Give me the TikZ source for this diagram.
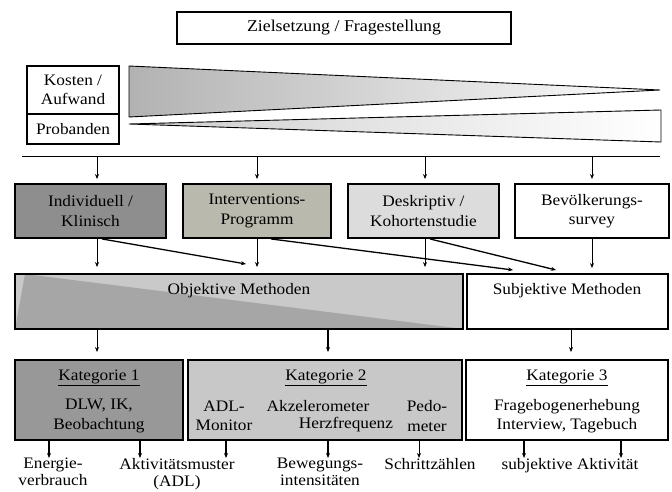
\documentclass[tikz,border=0pt]{standalone}
\usepackage{fontspec}
\setmainfont{Liberation Serif}[FakeStretch=1.08]
\usetikzlibrary{arrows.meta,calc}
\definecolor{indfill}{HTML}{8E8E8E}
\definecolor{intfill}{HTML}{B9B9AD}
\definecolor{deskfill}{HTML}{DCDCDC}
\definecolor{objdark}{HTML}{A6A6A6}
\definecolor{objlight}{HTML}{C9C9C9}
\definecolor{katone}{HTML}{989898}
\definecolor{kattwo}{HTML}{C8C8C8}
\definecolor{wedgeA}{HTML}{B2B2B2}
\definecolor{wedgeB}{HTML}{CDCDCD}
\begin{document}
\begin{tikzpicture}[x=1pt,y=-1pt,
  font=\fontsize{16}{19.5}\selectfont,
  box/.style={draw, line width=1.9pt, inner sep=0pt, align=center},
  arr/.style={-{Stealth[length=5pt,width=4pt]}, line width=0.8pt},
  thickarr/.style={-{Stealth[length=5pt,width=4pt]}, line width=1.3pt},
  lbl/.style={inner sep=0pt, align=center, anchor=north, font=\fontsize{16}{17}\selectfont}]
\useasboundingbox (0,0) rectangle (672,492);

% title
\node[box, line width=2pt, minimum width=334pt, minimum height=32pt, font=\fontsize{16.5}{20}\selectfont] (title) at (344,28) {Zielsetzung / Fragestellung};

% cost / subjects
\node[box, minimum width=92pt, minimum height=48pt] (kosten) at (73,90) {Kosten /\\Aufwand};
\node[box, minimum width=92pt, minimum height=30pt] (prob) at (73,129) {Probanden};

% wedges
\shade[left color=wedgeA, right color=white, draw=black, line width=0.9pt]
  (129,66) -- (660,90) -- (129,117) -- cycle;
\shade[left color=wedgeB, right color=white, draw=black, line width=0.9pt]
  (129,124) -- (661,110) -- (661,142) -- cycle;

% bus
\coordinate (busL) at (22,157);
\coordinate (busR) at (660,157);
\draw[line width=1pt] (busL) -- (busR);
\coordinate (x97) at (97,157);
\coordinate (x257) at (257,157);
\coordinate (x425) at (425,157);
\coordinate (x592) at (592,157);

% study types
\node[box, fill=indfill, minimum width=151pt, minimum height=54pt] (ind) at (90.5,211) {Individuell /\\Klinisch};
\node[box, fill=intfill, minimum width=148pt, minimum height=54pt] (int) at (257,211) {Interventions-\\Programm};
\node[box, fill=deskfill, minimum width=151pt, minimum height=54pt] (desk) at (423.5,211) {Deskriptiv /\\Kohortenstudie};
\node[box, fill=white, minimum width=154pt, minimum height=54pt] (bev) at (592,211) {Bevölkerungs-\\survey};

\draw[arr, shorten >=4pt] (x97) -- (x97 |- ind.north);
\draw[arr, shorten >=4pt] (x257) -- (x257 |- int.north);
\draw[arr, shorten >=4pt] (x425) -- (x425 |- desk.north);
\draw[arr, shorten >=4pt] (x592) -- (x592 |- bev.north);

% methods
\node[box, fill=objlight, minimum width=448pt, minimum height=55pt,
  path picture={\fill[objdark] ($(path picture bounding box.north west)+(10pt,0pt)$) -- (path picture bounding box.south east) -- (path picture bounding box.south west) -- cycle;}] (obj) at (239,301.5) {};
\node[box, fill=white, minimum width=201pt, minimum height=55pt] (subj) at (567.5,301.5) {};
\node[inner sep=0pt] (objt) at (239,291) {Objektive Methoden};
\node[inner sep=0pt] (subjt) at (567,291) {Subjektive Methoden};

\draw[arr, shorten >=6pt] (x97 |- ind.south) -- (x97 |- obj.north);
\draw[arr, shorten >=6pt] (x257 |- int.south) -- (x257 |- obj.north);
\draw[arr, shorten >=6pt] (x425 |- desk.south) -- (x425 |- obj.north);
\draw[arr, shorten >=5pt] (x592 |- bev.south) -- (x592 |- subj.north);

% diagonal connectors
\coordinate (d1s) at (102,238);
\coordinate (d1e) at (246,264);
\coordinate (d2s) at (271,238);
\coordinate (d2e) at (513,270);
\coordinate (d3s) at (430,238);
\coordinate (d3e) at (556,270);
\draw[thickarr] (ind.south -| d1s) -- (d1e);
\draw[thickarr] (int.south -| d2s) -- (d2e);
\draw[thickarr] (desk.south -| d3s) -- (d3e);

% categories
\node[box, fill=katone, minimum width=168pt, minimum height=80pt] (kat1) at (99,400) {};
\node[box, fill=kattwo, minimum width=274pt, minimum height=80pt] (kat2) at (325,400) {};
\node[box, fill=white, minimum width=202pt, minimum height=80pt] (kat3) at (567,400) {};

\node[inner sep=0pt] (k1h) at (99,378) {\underline{Kategorie 1}};
\node[inner sep=0pt] (k2h) at (326,378) {\underline{Kategorie 2}};
\node[inner sep=0pt] (k3h) at (567,378) {\underline{Kategorie 3}};

\node[inner sep=0pt, align=center] (k1b) at (99,416) {DLW, IK,\\Beobachtung};
\node[inner sep=0pt, align=center] (k2a) at (224,416) {ADL-\\Monitor};
\node[inner sep=0pt] (k2b) at (318,406) {Akzelerometer};
\node[inner sep=0pt] (k2c) at (346,425) {Herzfrequenz};
\node[inner sep=0pt, align=center] (k2d) at (427,416) {Pedo-\\meter};
\node[inner sep=0pt, align=center] (k3b) at (567,416) {Fragebogenerhebung\\Interview, Tagebuch};

\coordinate (m97) at (97,0);
\coordinate (m328) at (328,0);
\coordinate (m571) at (571,0);
\draw[arr, shorten >=7pt] (obj.south -| m97) -- (kat1.north -| m97);
\draw[thickarr, shorten >=7pt] (obj.south -| m328) -- (kat2.north -| m328);
\draw[arr, shorten >=7pt] (subj.south -| m571) -- (kat3.north -| m571);

% outcome labels
\node[lbl] (energie) at (53,458) {Energie-\\verbrauch};
\node[lbl] (aktiv) at (177,458) {Aktivitätsmuster\\(ADL)};
\node[lbl] (beweg) at (320,458) {Bewegungs-\\intensitäten};
\node[lbl] (schritt) at (430,458) {Schrittzählen};
\node[lbl] (subakt) at (570,458) {subjektive Aktivität};

\coordinate (o49) at (49,458);
\coordinate (o140) at (140,458);
\coordinate (o226) at (226,458);
\coordinate (o328) at (328,458);
\coordinate (o419) at (419,458);
\coordinate (o524) at (524,458);
\coordinate (o621) at (621,458);
\draw[thickarr] (kat1.south -| o49) -- (o49);
\draw[thickarr] (kat1.south -| o140) -- (o140);
\draw[thickarr] (kat2.south -| o226) -- (o226);
\draw[thickarr] (kat2.south -| o328) -- (o328);
\draw[arr] (kat2.south -| o419) -- (o419);
\draw[thickarr] (kat3.south -| o524) -- (o524);
\draw[thickarr] (kat3.south -| o621) -- (o621);
\end{tikzpicture}
\end{document}
